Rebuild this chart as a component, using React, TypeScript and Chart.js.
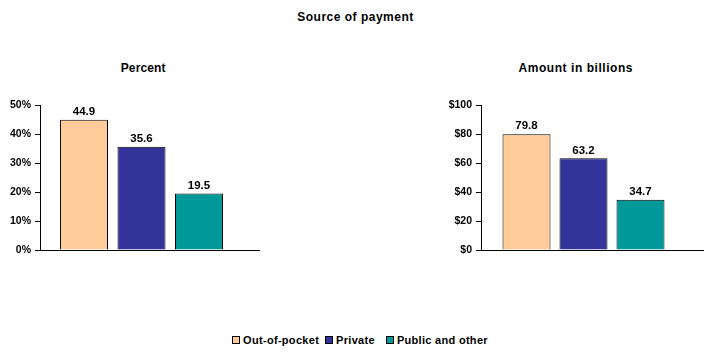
import React, { useEffect, useRef } from "react";
import { Chart, registerables } from "chart.js";
Chart.register(...registerables);

const FONT = "'Liberation Sans', Arial, Helvetica, sans-serif";

const mainTitle = "Source of payment";
const seriesNames = ["Out-of-pocket", "Private", "Public and other"];
const seriesColors = ["#FFCC99", "#333399", "#009999"];
const percentTitle = "Percent";
const percentValues = [44.9, 35.6, 19.5];
const percentMax = 50;
const percentStep = 10;
const amountTitle = "Amount in billions";
const amountValues = [79.8, 63.2, 34.7];
const amountMax = 100;
const amountStep = 20;

const valueLabels = {
  id: "valueLabels",
  afterDatasetsDraw(chart: any) {
    const ctx = chart.ctx;
    ctx.save();
    ctx.font = "bold 11.5px " + FONT;
    ctx.fillStyle = "#000";
    ctx.textAlign = "center";
    ctx.textBaseline = "middle";
    chart.data.datasets.forEach((ds: any, i: number) => {
      chart.getDatasetMeta(i).data.forEach((bar: any, j: number) => {
        ctx.fillText(Number(ds.data[j]).toFixed(1), bar.x, bar.y - 8);
      });
    });
    ctx.restore();
  },
};

const baseline = {
  id: "baseline",
  afterDraw(chart: any, _args: any, opts: any) {
    const ctx = chart.ctx;
    const y = Math.floor(chart.scales.y.getPixelForValue(0)) + 0.5;
    ctx.save();
    ctx.strokeStyle = "#000";
    ctx.lineWidth = 1;
    ctx.beginPath();
    ctx.moveTo(chart.chartArea.left, y);
    ctx.lineTo(chart.chartArea.right + (opts.extend || 0), y);
    ctx.stroke();
    ctx.restore();
  },
};

type PanelProps = {
  values: number[];
  max: number;
  step: number;
  fmt: (v: number) => string;
  left: number;
  width: number;
  padRight: number;
  catPct: number;
  barPct: number;
  extend: number;
};

function BarPanel(p: PanelProps) {
  const ref = useRef<HTMLCanvasElement | null>(null);
  const height = 270;
  useEffect(() => {
    const chart = new Chart(ref.current as HTMLCanvasElement, {
      type: "bar",
      data: {
        labels: [""],
        datasets: seriesNames.map((name, i) => ({
          label: name,
          data: [p.values[i]],
          backgroundColor: seriesColors[i],
          borderColor: "#000",
          borderWidth: 1,
          categoryPercentage: p.catPct,
          barPercentage: p.barPct,
        })),
      },
      options: {
        responsive: false,
        animation: false,
        devicePixelRatio: 1,
        layout: { padding: { left: 0, right: p.padRight, top: 105, bottom: 20 } },
        plugins: {
          legend: { display: false },
          tooltip: { enabled: false },
          title: { display: false },
          baseline: { extend: p.extend },
        } as any,
        scales: {
          x: { display: false },
          y: {
            min: 0,
            max: p.max,
            afterFit: (s: any) => {
              s.width = 40;
            },
            ticks: {
              stepSize: p.step,
              color: "#000",
              padding: 4,
              font: { family: FONT, size: 10.5, weight: "bold" },
              callback: (v: any) => p.fmt(Number(v)),
            },
            grid: { display: true, drawOnChartArea: false, drawTicks: true, tickLength: 5, color: "#000" },
            border: { display: true, color: "#000", width: 1 },
          },
        },
      },
      plugins: [valueLabels, baseline],
    } as any);
    return () => chart.destroy();
  }, []);
  return (
    <canvas
      ref={ref}
      width={p.width}
      height={height}
      style={{ position: "absolute", left: p.left, top: 0, width: p.width, height }}
    />
  );
}

function Heading(props: { text: string; center: number; top: number; size: number; spacing: number }) {
  return (
    <div
      style={{
        position: "absolute",
        left: props.center - 150,
        top: props.top,
        width: 300,
        textAlign: "center",
        fontSize: props.size,
        lineHeight: "14px",
        fontWeight: "bold",
        letterSpacing: props.spacing,
        color: "#000",
        whiteSpace: "nowrap",
      }}
    >
      {props.text}
    </div>
  );
}

export default function App() {
  return (
    <div style={{ position: "absolute", left: 0, top: 0, width: 719, height: 363, background: "#fff", fontFamily: FONT }}>
      <Heading text={mainTitle} center={355.5} top={10} size={12} spacing={0.5} />
      <Heading text={percentTitle} center={143.2} top={61} size={12} spacing={0.15} />
      <Heading text={amountTitle} center={575.8} top={61} size={12} spacing={0.55} />
      <BarPanel
        values={percentValues}
        max={percentMax}
        step={percentStep}
        fmt={(v) => v + "%"}
        left={0}
        width={286}
        padRight={43}
        catPct={0.85}
        barPct={0.835}
        extend={17}
      />
      <BarPanel
        values={amountValues}
        max={amountMax}
        step={amountStep}
        fmt={(v) => "$" + v}
        left={441}
        width={268}
        padRight={23}
        catPct={0.834}
        barPct={0.842}
        extend={18}
      />
      <div
        style={{
          position: "absolute",
          left: 0,
          top: 334,
          width: 720,
          display: "flex",
          justifyContent: "center",
          alignItems: "center",
          fontSize: 11,
          lineHeight: "13px",
          fontWeight: "bold",
          letterSpacing: 0.3,
          color: "#000",
          whiteSpace: "nowrap",
        }}
      >
        {seriesNames.map((name, i) => (
          <span key={name} style={{ display: "flex", alignItems: "center", marginLeft: i === 0 ? 0 : i === 1 ? 6 : 11 }}>
            <span
              style={{
                display: "inline-block",
                width: 6,
                height: 6,
                border: "1px solid #000",
                background: seriesColors[i],
                marginRight: 3,
                position: "relative",
                top: -1,
              }}
            />
            {name}
          </span>
        ))}
      </div>
    </div>
  );
}
